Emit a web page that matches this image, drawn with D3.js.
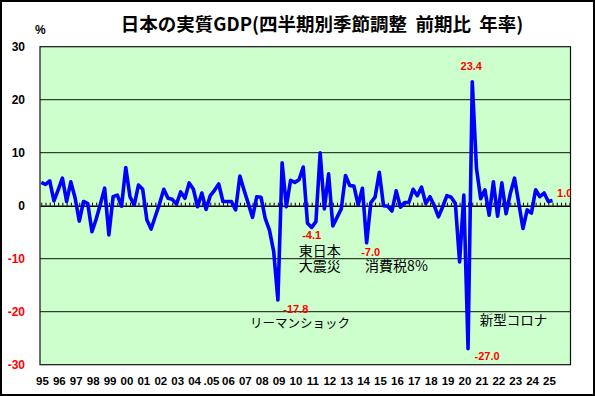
<!DOCTYPE html>
<html>
<head>
<meta charset="utf-8">
<script src="https://cdn.jsdelivr.net/npm/d3@7"></script>
<style>
  body { margin: 0; background: #fff; }
  svg { display: block; }
  .title { white-space: pre; }
</style>
</head>
<body>
<div id="chart"></div>
<script>
// 実質GDP 前期比年率（%）、1995Q1 〜 2025Q2
const gdpGrowth = [
    4.4, 4.0, 4.7, 0.9,   3.0, 5.2, 0.8, 4.5,   1.5, -2.9, 0.8, 0.4,
    -4.9, -2.5, 0.3, 3.3, -5.5, 1.7, 2.0, -0.1,  7.2, 1.7, 0.1, 3.9,
    3.1, -2.7, -4.4, -2.0, 0.4, 3.1, 1.4, 1.2,   0.3, 2.6, 1.4, 4.3,
    3.1, -0.2, 2.4, -0.7, 1.9, 2.9, 4.1, 0.8,    0.8, 0.8, -0.8, 5.6,
    2.9, 0.4, -2.2, 1.7,  1.6, -2.4, -4.6, -8.6, -17.8, 8.1, -0.2, 4.8,
    4.4, 4.9, 7.3, -3.3,  -4.1, -3.0, 10.0, -0.6, 6.0, -3.8, -2.2, -0.6,
    5.7, 3.8, 3.7, 0.1,   3.3, -7.0, 0.6, 1.6,   6.3, 0.0, -0.1, -1.0,
    2.8, -0.3, 0.6, 0.6,  3.1, 1.9, 3.5, 0.4,    1.7, 0.0, -2.1, -0.2,
    1.9, 1.6, 0.4, -10.6, 2.0, -27.0, 23.4, 7.0,  1.3, 3.0, -1.8, 4.5,
    -2.0, 4.3, -1.5, 2.3, 5.2, 0.5, -4.3, -0.8,  -1.4, 3.0, 1.7, 2.4,
    0.8, 1.0
];

const yearLabels = ['95', '96', '97', '98', '99', '00', '01', '02', '03', '04', '.05',
    '06', '07', '08', '09', '10', '11', '12', '13', '14', '15', '16', '17', '18',
    '19', '20', '21', '22', '23', '24', '25'];

const yTicks = [30, 20, 10, 0, -10, -20, -30];
const gridValues = [20, 10, -10, -20];

// 数値ラベルを付ける四半期（インデックス）
const noteQuarters = [56, 64, 77, 101, 102, 121];

// イベント名と対応する四半期
const eventNames = [['リーマンショック'], ['東日本', '大震災'], ['消費税8%'], ['新型コロナ']];
const eventQuarters = [56, 64, 77, 101];

const W = 595, H = 396;
const plot = { left: 40, right: 570.5, top: 46.7, bottom: 364.7 };
const latin = '"Liberation Sans", Arial, sans-serif';
const jp = '"Noto Sans CJK JP", sans-serif';

function drawChart() {
    const svg = d3.select('#chart').append('svg')
        .attr('width', W)
        .attr('height', H);

    // outer frame
    svg.append('rect')
        .attr('x', 1).attr('y', 1)
        .attr('width', W - 2).attr('height', H - 2)
        .attr('fill', '#fff')
        .attr('stroke', '#000')
        .attr('stroke-width', 2);

    const x = d3.scaleLinear().domain([-0.3, 125.25]).range([plot.left, plot.right]);
    const y = d3.scaleLinear().domain([-30, 30]).range([plot.bottom, plot.top]);

    svg.append('rect')
        .attr('x', plot.left).attr('y', plot.top)
        .attr('width', plot.right - plot.left)
        .attr('height', plot.bottom - plot.top)
        .attr('fill', '#ccffcc');

    svg.append('clipPath').attr('id', 'plot-clip')
        .append('rect')
        .attr('x', plot.left).attr('y', plot.top)
        .attr('width', plot.right - plot.left)
        .attr('height', plot.bottom - plot.top);

    // gridlines
    svg.append('g').selectAll('line')
        .data(gridValues)
        .join('line')
        .attr('x1', plot.left).attr('x2', plot.right)
        .attr('y1', d => y(d)).attr('y2', d => y(d))
        .attr('stroke', '#111')
        .attr('stroke-width', 1);

    // zero axis with quarterly ticks
    const zeroAxis = d3.axisTop(x)
        .tickValues(d3.range(0, 126))
        .tickSize(3)
        .tickSizeOuter(0)
        .tickFormat('');
    svg.append('g')
        .attr('transform', `translate(0,${y(0)})`)
        .call(zeroAxis)
        .call(g => g.select('.domain').attr('stroke', '#000').attr('stroke-width', 1.5))
        .call(g => g.selectAll('.tick line').attr('stroke', '#000').attr('stroke-width', 1));

    // plot border
    svg.append('rect')
        .attr('x', plot.left).attr('y', plot.top)
        .attr('width', plot.right - plot.left)
        .attr('height', plot.bottom - plot.top)
        .attr('fill', 'none')
        .attr('stroke', '#111')
        .attr('stroke-width', 1.2);

    // y labels
    svg.append('g').selectAll('text')
        .data(yTicks)
        .join('text')
        .attr('x', 25)
        .attr('y', d => y(d))
        .attr('dy', '0.36em')
        .attr('text-anchor', 'end')
        .attr('font-family', latin)
        .attr('font-weight', 'bold')
        .attr('font-size', '12px')
        .attr('fill', d => d < 0 ? '#ff0000' : '#000')
        .text(d => d);

    svg.append('text')
        .attr('x', 35).attr('y', 29.5)
        .attr('dy', '0.36em')
        .attr('font-family', latin)
        .attr('font-weight', 'bold')
        .attr('font-size', '12px')
        .text('%');

    // year labels under the plot
    svg.append('g').selectAll('text')
        .data(yearLabels)
        .join('text')
        .attr('x', (d, k) => x(k * 4) + 1.2)
        .attr('y', 381)
        .attr('dy', '0.36em')
        .attr('text-anchor', 'middle')
        .attr('font-family', latin)
        .attr('font-weight', 'bold')
        .attr('font-size', '11.5px')
        .text(d => d);

    // title
    svg.append('text')
        .attr('class', 'title')
        .attr('x', 322).attr('y', 24.5)
        .attr('dy', '0.36em')
        .attr('text-anchor', 'middle')
        .attr('font-family', jp)
        .attr('font-weight', 'bold')
        .attr('font-size', '18.5px')
        .text('日本の実質GDP(四半期別季節調整  前期比  年率)');

    // the line
    const line = d3.line()
        .x((d, i) => x(i))
        .y(d => y(d));

    svg.append('path')
        .datum(gdpGrowth)
        .attr('fill', 'none')
        .attr('stroke', '#0000ff')
        .attr('stroke-width', 3.6)
        .attr('stroke-linejoin', 'round')
        .attr('d', line);

    // value labels
    const noteOffset = {
        56: [18, 8.5, 'middle'],
        64: [0, 7.5, 'middle'],
        77: [4, 9, 'middle'],
        101: [19, 7.5, 'middle'],
        102: [-1, -15.5, 'middle'],
        121: [4.5, -7, 'start']
    };
    svg.append('g')
        .attr('clip-path', 'url(#plot-clip)')
        .selectAll('text')
        .data(noteQuarters)
        .join('text')
        .attr('x', q => x(q) + noteOffset[q][0])
        .attr('y', q => y(gdpGrowth[q]) + noteOffset[q][1])
        .attr('dy', '0.36em')
        .attr('text-anchor', q => noteOffset[q][2])
        .attr('font-family', latin)
        .attr('font-weight', 'bold')
        .attr('font-size', '11px')
        .attr('fill', '#ff0000')
        .text(q => gdpGrowth[q].toFixed(1));

    // event names
    const eventOffset = [
        [22, 23.5, 'middle', 12.5],
        [8, 24, 'middle', 14],
        [-1.5, 23.5, 'start', 14],
        [45.5, -28.8, 'middle', 13.5]
    ];
    eventNames.forEach((lines, k) => {
        const q = eventQuarters[k];
        const [dx, dy, anchor, size] = eventOffset[k];
        lines.forEach((txt, j) => {
            svg.append('text')
                .attr('x', x(q) + dx)
                .attr('y', y(gdpGrowth[q]) + dy + j * 15)
                .attr('dy', '0.36em')
                .attr('text-anchor', anchor)
                .attr('font-family', jp)
                .attr('font-size', size + 'px')
                .attr('fill', '#000')
                .text(txt);
        });
    });
}

drawChart();
</script>
</body>
</html>
